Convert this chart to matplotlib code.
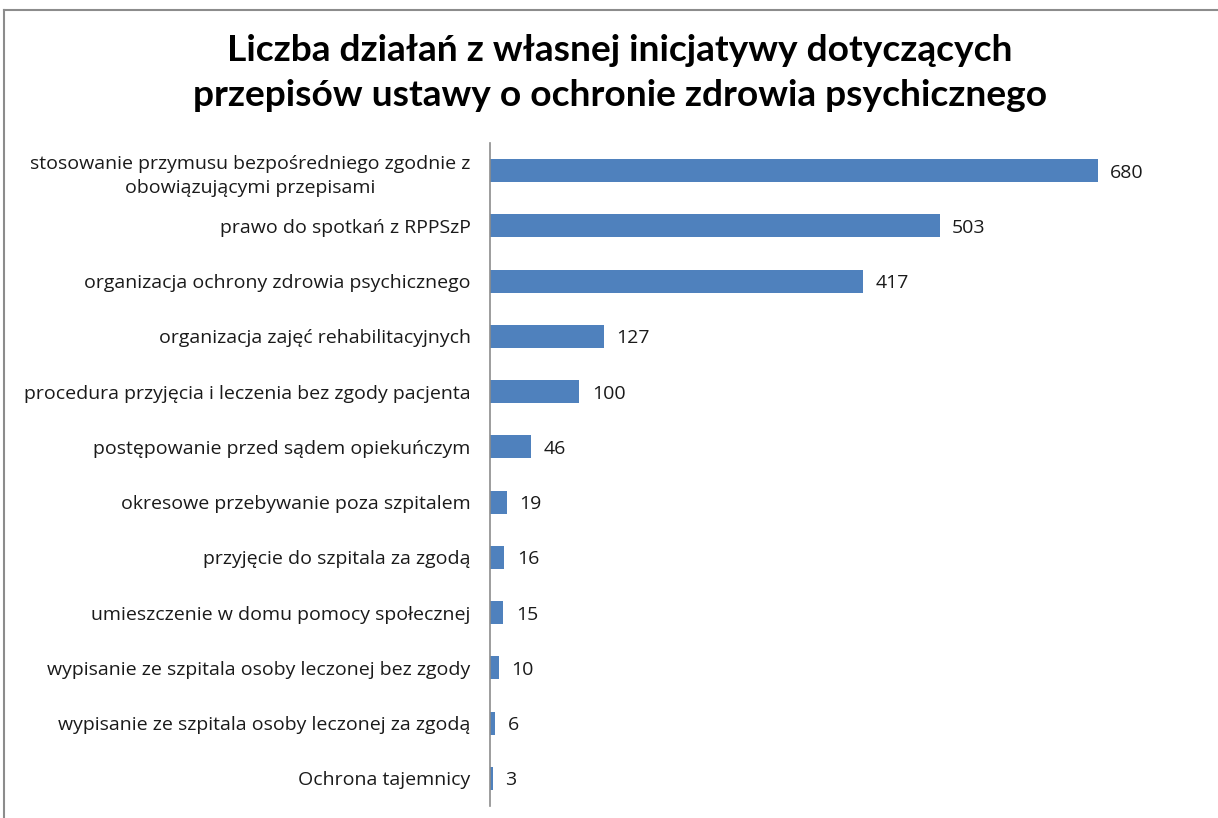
import matplotlib
matplotlib.use("Agg")
import matplotlib.pyplot as plt
from matplotlib.lines import Line2D

categories = [
    "stosowanie przymusu bezpośredniego zgodnie z\nobowiązującymi przepisami",
    "prawo do spotkań z RPPSzP",
    "organizacja ochrony zdrowia psychicznego",
    "organizacja zajęć rehabilitacyjnych",
    "procedura przyjęcia i leczenia bez zgody pacjenta",
    "postępowanie przed sądem opiekuńczym",
    "okresowe przebywanie poza szpitalem",
    "przyjęcie do szpitala za zgodą",
    "umieszczenie w domu pomocy społecznej",
    "wypisanie ze szpitala osoby leczonej bez zgody",
    "wypisanie ze szpitala osoby leczonej za zgodą",
    "Ochrona tajemnicy",
]
values = [680, 503, 417, 127, 100, 46, 19, 16, 15, 10, 6, 3]
title = "Liczba działań z własnej inicjatywy dotyczących\nprzepisów ustawy o ochronie zdrowia psychicznego"

plt.rcParams['font.family'] = ['Open Sans', 'DejaVu Sans']

W, H = 1218, 818
fig = plt.figure(figsize=(W / 100, H / 100), dpi=100)
fig.patch.set_facecolor("white")

# figure border (top and left)
fig.add_artist(Line2D([4 / W, 1], [1 - 10 / H, 1 - 10 / H], transform=fig.transFigure, color="#8c8c8c", lw=1.5))
fig.add_artist(Line2D([4 / W, 4 / W], [0, 1 - 10 / H], transform=fig.transFigure, color="#8c8c8c", lw=1.5))

left, right, top, bottom = 490, 1205, 143, 806
ax = fig.add_axes([left / W, 1 - bottom / H, (right - left) / W, (bottom - top) / H])

y = list(range(len(categories)))
ax.barh(y, values, height=0.42, color="#4f81bd")
ax.set_ylim(len(categories) - 0.5, -0.5)
ax.set_xlim(0, 800)
ax.set_yticks(y)
ax.set_yticklabels(categories, fontsize=14, color="#1a1a1a", ha="right",
                   multialignment="center", linespacing=1.45)
ax.tick_params(axis="y", length=0, pad=14)
ax.set_xticks([])
for s in ["top", "right", "bottom"]:
    ax.spines[s].set_visible(False)
ax.spines["left"].set_color("#8c8c8c")
ax.spines["left"].set_linewidth(1.2)

for yi, v in zip(y, values):
    ax.annotate(str(v), xy=(v, yi), xytext=(9, -1.5), textcoords="offset points",
                va="center", ha="left", fontsize=14, color="#1a1a1a")

fig.text(620 / W, 1 - 73 / H, title, ha="center", va="center", fontsize=26.7,
         fontweight="bold", linespacing=1.42, color="#000000",
         family=['Lato', 'DejaVu Sans'])

fig.savefig("out.png", dpi=100, facecolor="white")
